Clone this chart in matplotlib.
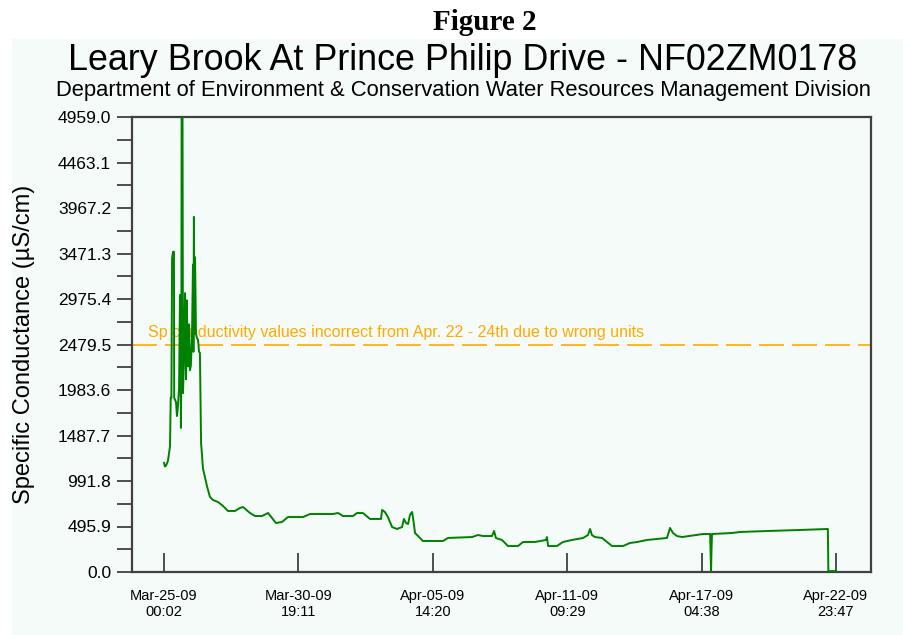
import numpy as np
import pandas as pd
import matplotlib
matplotlib.use('Agg')
import matplotlib.pyplot as plt
import matplotlib.dates as mdates
from matplotlib.patches import Rectangle
from matplotlib.ticker import FixedLocator, FormatStrFormatter

# station record, time in days after the first reading
start = pd.Timestamp('2009-03-25 00:02')
days = [0.00, 0.04, 0.09, 0.17, 0.26, 0.29, 0.32, 0.35, 0.39, 0.43, 0.44,
        0.52, 0.56, 0.60, 0.65, 0.69, 0.71, 0.73, 0.75, 0.76, 0.80, 0.82,
        0.86, 0.91, 0.95, 0.99, 1.01, 1.04, 1.08, 1.12, 1.16, 1.21, 1.25,
        1.27, 1.29, 1.32, 1.34, 1.38, 1.42, 1.47, 1.51, 1.55, 1.60, 1.63,
        1.68, 1.77, 1.86, 1.98, 2.11, 2.33, 2.55, 2.76, 3.06, 3.28, 3.41,
        3.71, 3.93, 4.23, 4.49, 4.66, 4.83, 5.09, 5.35, 5.74, 6.00, 6.30,
        7.29, 7.51, 7.72, 8.15, 8.33, 8.58, 8.89, 9.36, 9.41, 9.53, 9.66,
        9.84, 10.05, 10.27, 10.35, 10.44, 10.53, 10.61, 10.70, 10.74, 10.83,
        11.04, 11.17, 12.04, 12.25, 13.29, 13.55, 13.76, 14.15, 14.24, 14.32,
        14.58, 14.84, 15.27, 15.49, 16.00, 16.48, 16.52, 16.57, 16.95, 17.21,
        17.60, 18.08, 18.29, 18.38, 18.46, 18.59, 18.90, 19.11, 19.33, 19.80,
        20.10, 20.41, 20.84, 21.27, 21.70, 21.83, 21.96, 22.13, 22.35, 23.25,
        23.56, 23.60, 23.62, 23.64, 24.50, 24.85, 26.06, 27.44, 28.64, 28.66,
        28.99]
cond = [1190, 1150, 1160, 1210, 1370, 1900, 1900, 3420, 3490, 3490, 1900,
        1850, 1700, 1800, 2000, 3020, 2900, 1570, 2200, 4959, 4959, 1950,
        2300, 3040, 2100, 2960, 2300, 2240, 2700, 2200, 2250, 2600, 3350,
        2400, 3870, 2600, 3430, 2600, 2550, 2530, 2400, 2390, 1400, 1310,
        1130, 1030, 930, 820, 785, 763, 719, 665, 665, 698, 708,
        643, 610, 610, 643, 588, 534, 545, 599, 599, 599, 632,
        632, 643, 610, 610, 643, 643, 578, 578, 676, 654, 599,
        490, 469, 490, 578, 534, 523, 621, 654, 599, 425,
        371, 338, 338, 371, 381, 403, 392, 392, 447, 370,
        349, 283, 283, 327, 327, 349, 381, 283, 283, 327,
        349, 371, 403, 469, 403, 381, 371, 327, 283, 283,
        316, 327, 349, 360, 371, 480, 425, 392, 381, 414,
        414, 10, 240, 414, 425, 436, 447, 458, 469, 10,
        10]

y_max = 4959.0
y_step = 495.9
limit = 2479.5
note = 'Sp conductivity values incorrect from Apr. 22 - 24th due to wrong units'
tick_step = pd.Timedelta(days=5, hours=19, minutes=9)

title = 'Leary Brook At Prince Philip Drive - NF02ZM0178'
subtitle = 'Department of Environment & Conservation Water Resources Management Division'
ylabel = 'Specific Conductance (\u00b5S/cm)'

panel = '#f5fbf8'
frame = '#404040'
sans = ['Liberation Sans', 'DejaVu Sans']

t = start + pd.to_timedelta(days, unit='D')

fig = plt.figure(figsize=(9.04, 6.35), dpi=100, facecolor='white')
fig.patches.append(Rectangle((12 / 904, 0), 1, 1 - 39 / 635, transform=fig.transFigure,
                             facecolor=panel, edgecolor='none', zorder=-10))

ax = fig.add_axes([132 / 904, 1 - 572 / 635, (871 - 132) / 904, (572 - 117) / 635])
ax.set_facecolor(panel)

ax.plot(t, cond, color='#008000', linewidth=1.4, zorder=3)
ax.axhline(limit, color='#ffaa00', linewidth=1.2, dashes=(15, 4.8), zorder=2)
ax.text(start - pd.Timedelta(days=0.7), limit + 45, note, color='#ffaa00',
        fontsize=11.5, family=sans, va='bottom', ha='left', zorder=2)

ax.set_xlim(start - pd.Timedelta(days=1.38), start + pd.Timedelta(days=30.50))
ax.set_ylim(0, y_max)

# six date ticks across the record
xt = [start + k * tick_step for k in range(6)]
ax.set_xticks(xt)
ax.xaxis.set_major_formatter(mdates.DateFormatter('%b-%d-%y\n%H:%M'))
ax.tick_params(axis='x', direction='in', length=14, width=1.3, color=frame,
               pad=12, labelsize=10.5)

yt = np.arange(11) * y_step
ax.yaxis.set_major_locator(FixedLocator(yt))
ax.yaxis.set_minor_locator(FixedLocator(yt[:-1] + y_step / 2))
ax.yaxis.set_major_formatter(FormatStrFormatter('%.1f'))
ax.tick_params(axis='y', which='both', direction='out', length=11, width=1.3,
               color=frame, labelsize=12.5, pad=4)

for lab in ax.get_xticklabels() + ax.get_yticklabels():
    lab.set_family(sans)

for s in ax.spines.values():
    s.set_color(frame)
    s.set_linewidth(1.6)

ax.set_ylabel(ylabel, fontsize=17, family=sans)
ax.yaxis.set_label_coords((35 - 132) / 739, 0.5)

fig.text(485 / 904, 1 - 30 / 635, 'Figure 2', family=['Liberation Serif', 'DejaVu Serif'],
         fontweight='bold', fontsize=21, ha='center', va='baseline')
fig.text(463 / 904, 1 - 70 / 635, title, family=sans, fontsize=25.8,
         ha='center', va='baseline')
fig.text(463 / 904, 1 - 96 / 635, subtitle, family=sans, fontsize=15.8,
         ha='center', va='baseline')

fig.savefig('out.png', dpi=100, facecolor='white')
